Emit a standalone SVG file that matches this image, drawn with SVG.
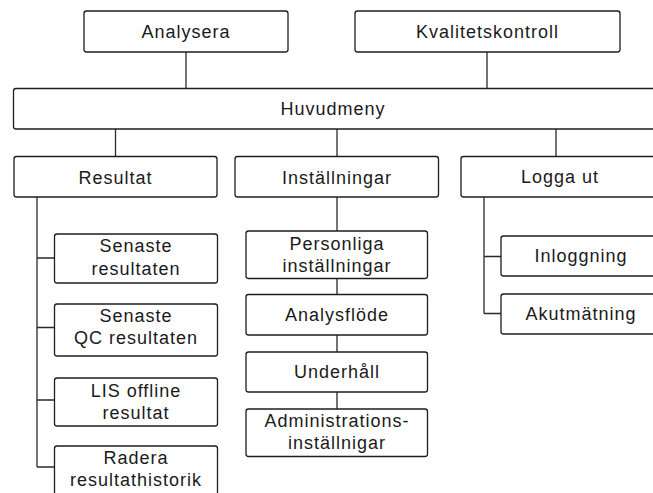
<svg xmlns="http://www.w3.org/2000/svg" width="653" height="493" viewBox="0 0 653 493">
  <style>
    .box { fill: #ffffff; stroke: #1e1e1e; stroke-width: 1.3; }
    .lbl { font-family: "Liberation Sans", Arial, sans-serif; font-size: 18px; letter-spacing: 1px; fill: #1a1a1a; text-anchor: middle; }
    .wire { stroke: #2a2a2a; stroke-width: 1.3; fill: none; }
  </style>
  <rect width="653" height="493" fill="#ffffff"/>

  <!-- connectors -->
  <g id="connectors">
    <path class="wire" d="M186 52 V88.5 M487 52 V88.5"/>
    <path class="wire" d="M115.5 129 V156.5 M337 129 V156.5 M556 129 V156.5"/>
    <!-- Resultat branch -->
    <path class="wire" d="M37 197 V467 M37 258 H54.5 M37 327.5 H54.5 M37 400 H54.5 M37 467 H54.5"/>
    <!-- Inställningar chain -->
    <path class="wire" d="M337 197 V231 M337 278.5 V294.5 M337 335 V352 M337 392 V409"/>
    <!-- Logga ut branch -->
    <path class="wire" d="M484 197 V313.5 M484 256.5 H501 M484 313.5 H501"/>
  </g>

  <g id="analysera">
    <rect class="box" x="84" y="11" width="204" height="41" rx="2.5"/>
    <text class="lbl" x="186" y="38">Analysera</text>
  </g>
  <g id="kvalitetskontroll">
    <rect class="box" x="355" y="11" width="265" height="41" rx="2.5"/>
    <text class="lbl" x="487.5" y="38">Kvalitetskontroll</text>
  </g>
  <g id="huvudmeny">
    <rect class="box" x="13.5" y="88.5" width="650" height="40.5" rx="2.5"/>
    <text class="lbl" x="333" y="115">Huvudmeny</text>
  </g>

  <g id="resultat">
    <rect class="box" x="14" y="156.5" width="203" height="40.5" rx="2.5"/>
    <text class="lbl" x="115.5" y="183.5">Resultat</text>
  </g>
  <g id="installningar">
    <rect class="box" x="235" y="156.5" width="203.5" height="40.5" rx="2.5"/>
    <text class="lbl" x="337" y="183.5">Inställningar</text>
  </g>
  <g id="logga-ut">
    <rect class="box" x="461" y="156.5" width="200" height="40.5" rx="2.5"/>
    <text class="lbl" x="560" y="183">Logga ut</text>
  </g>

  <g id="senaste-resultaten">
    <rect class="box" x="54.5" y="234" width="163" height="49" rx="2.5"/>
    <text class="lbl" x="136" y="252">Senaste</text>
    <text class="lbl" x="136" y="274.5">resultaten</text>
  </g>
  <g id="senaste-qc">
    <rect class="box" x="54.5" y="304" width="163" height="52" rx="2.5"/>
    <text class="lbl" x="136" y="322">Senaste</text>
    <text class="lbl" x="136" y="344">QC resultaten</text>
  </g>
  <g id="lis-offline">
    <rect class="box" x="54.5" y="378" width="163" height="48" rx="2.5"/>
    <text class="lbl" x="136" y="396.5">LIS offline</text>
    <text class="lbl" x="136" y="418.5">resultat</text>
  </g>
  <g id="radera">
    <rect class="box" x="54.5" y="446" width="163" height="60" rx="2.5"/>
    <text class="lbl" x="136" y="463.5">Radera</text>
    <text class="lbl" x="136" y="485.5">resultathistorik</text>
  </g>

  <g id="personliga">
    <rect class="box" x="246" y="231" width="181.5" height="47.5" rx="2.5"/>
    <text class="lbl" x="337" y="250">Personliga</text>
    <text class="lbl" x="337" y="271.5">inställningar</text>
  </g>
  <g id="analysflode">
    <rect class="box" x="246" y="294.5" width="181.5" height="40.5" rx="2.5"/>
    <text class="lbl" x="337" y="320.5">Analysflöde</text>
  </g>
  <g id="underhall">
    <rect class="box" x="246" y="352" width="181.5" height="40" rx="2.5"/>
    <text class="lbl" x="337" y="378">Underhåll</text>
  </g>
  <g id="administration">
    <rect class="box" x="246" y="409" width="181.5" height="47.5" rx="2.5"/>
    <text class="lbl" x="337" y="426.5">Administrations-</text>
    <text class="lbl" x="337" y="448.5">inställnigar</text>
  </g>

  <g id="inloggning">
    <rect class="box" x="501" y="236" width="160" height="40" rx="2.5"/>
    <text class="lbl" x="581" y="262">Inloggning</text>
  </g>
  <g id="akutmatning">
    <rect class="box" x="501" y="294" width="160" height="40" rx="2.5"/>
    <text class="lbl" x="581" y="320">Akutmätning</text>
  </g>
</svg>
